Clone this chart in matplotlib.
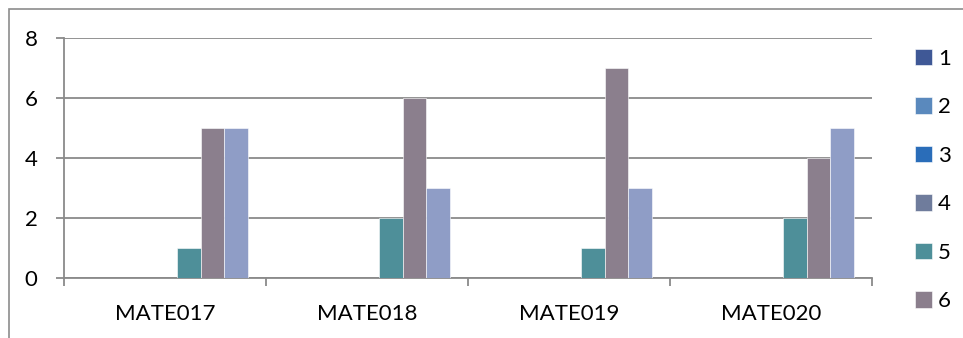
import matplotlib
matplotlib.use("Agg")
import matplotlib.pyplot as plt
import numpy as np
from matplotlib.patches import Rectangle
from matplotlib.ticker import FixedLocator

categories = ["MATE017", "MATE018", "MATE019", "MATE020"]
series_names = ["1", "2", "3", "4", "5", "6", "7"]
s1 = [0, 0, 0, 0]
s2 = [0, 0, 0, 0]
s3 = [0, 0, 0, 0]
s4 = [0, 0, 0, 0]
s5 = [1, 2, 1, 2]
s6 = [5, 6, 7, 4]
s7 = [5, 3, 3, 5]
series = [s1, s2, s3, s4, s5, s6, s7]
colors = ["#3F5896", "#5A89BD", "#2A6DB9", "#6F7C9C", "#4E8F99", "#8B7F8D", "#8F9DC6"]
yticks = [0, 2, 4, 6, 8]

W, H = 963, 338
fig = plt.figure(figsize=(W / 100, H / 100), dpi=100)
plt.rcParams['font.family'] = ['Lato', 'DejaVu Sans']

# outer chart frame
fig.add_artist(Rectangle((8.5 / W, -0.5), 2, (H - 8.5) / H + 0.5, transform=fig.transFigure,
                         fill=False, edgecolor="#8c8c8c", linewidth=1.2))

ax = fig.add_axes([64 / W, 60 / H, 808 / W, 240 / H])
n = len(series)
gap = 1.5
bw = 1.0 / (n + gap)
x = np.arange(len(categories))
for i, (vals, c, name) in enumerate(zip(series, colors, series_names)):
    offs = (i - (n - 1) / 2) * bw
    ax.bar(x + offs, vals, width=bw, color=c, label=name, zorder=3,
           edgecolor="white", linewidth=0.4)

ax.set_xlim(-0.5, len(categories) - 0.5)
ax.set_ylim(0, 8)
ax.set_yticks(yticks)
ax.yaxis.grid(True, color="#8a8a8a", linewidth=1.3, zorder=0)
for s in ["top", "right"]:
    ax.spines[s].set_visible(False)
for s in ["left", "bottom"]:
    ax.spines[s].set_color("#8a8a8a")
    ax.spines[s].set_linewidth(1.3)
ax.set_xticks(x)
ax.set_xticklabels(categories)
ax.xaxis.set_minor_locator(FixedLocator(np.arange(-0.5, len(categories), 1.0)))
ax.tick_params(axis="x", which="major", length=0, pad=19, labelsize=16)
ax.tick_params(axis="x", which="minor", length=6, width=1.3, color="#8a8a8a", direction="out")
ax.tick_params(axis="y", length=6, width=1.3, color="#8a8a8a", pad=13, labelsize=16)

# legend: the reference image only shows entries 1-6 (the 7th falls below the crop)
handles, labels = ax.get_legend_handles_labels()
leg = fig.legend(handles[:6], labels[:6], loc="upper left", bbox_to_anchor=(906 / W, 1 - 40 / H),
                 frameon=False, fontsize=16, handlelength=0.75, handleheight=0.75,
                 handletextpad=0.3, labelspacing=1.28, borderaxespad=0)

fig.savefig("out.png", dpi=100)
